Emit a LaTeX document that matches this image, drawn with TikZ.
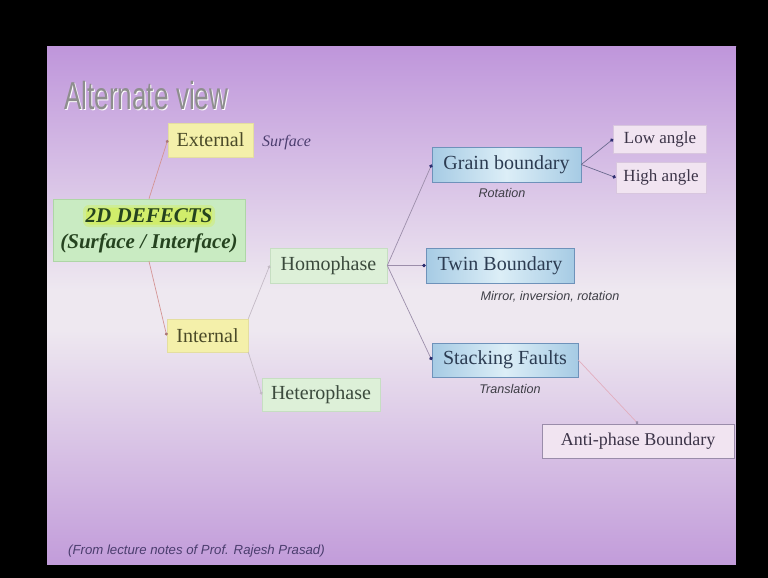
\documentclass[tikz,border=0pt]{standalone}
\usepackage{fontspec}
\setmainfont{Liberation Serif}
\setsansfont{Liberation Sans}
\usetikzlibrary{arrows.meta}

% slide background
\definecolor{bgTop}{HTML}{BF96DB}
\definecolor{bgMid}{HTML}{EEE8F0}
\definecolor{bgBot}{HTML}{C29CDA}
% box colours
\definecolor{yFill}{HTML}{F4F0AA}
\definecolor{yLine}{HTML}{E4DEA0}
\definecolor{yText}{HTML}{4A4A28}
\definecolor{gFill}{HTML}{C9EBC2}
\definecolor{gLine}{HTML}{AED6A6}
\definecolor{gText}{HTML}{25431F}
\definecolor{glow}{HTML}{D6EE48}
\definecolor{lgFill}{HTML}{DDF0D8}
\definecolor{lgLine}{HTML}{C6DEC2}
\definecolor{lgText}{HTML}{3B4A3C}
\definecolor{bEdge}{HTML}{A6CBE4}
\definecolor{bMid}{HTML}{DCEEF7}
\definecolor{bLine}{HTML}{6E92BA}
\definecolor{bText}{HTML}{2C3C52}
\definecolor{pFill}{HTML}{F1E4F1}
\definecolor{pLine}{HTML}{D8C6DE}
\definecolor{pText}{HTML}{3C3448}
\definecolor{apbLine}{HTML}{9A8CAA}
% connector colours
\definecolor{redLink}{HTML}{D49494}
\definecolor{grayLink}{HTML}{C4BAC6}
\definecolor{purpLink}{HTML}{9C8EAA}
\definecolor{darkLink}{HTML}{6A6A8E}
\definecolor{pinkLink}{HTML}{E2AEBE}
\definecolor{tipBlue}{HTML}{2C2C6E}
\definecolor{noteText}{HTML}{3E3E46}
\definecolor{footText}{HTML}{4B3D6E}
\definecolor{titleGray}{HTML}{8E8E8E}

\begin{document}
\begin{tikzpicture}[x=1pt,y=-1pt,
  box/.style={draw, line width=0.6pt, inner sep=0pt, font=\fontsize{20}{22}\selectfont},
  ybox/.style={box, fill=yFill, draw=yLine, text=yText},
  gbox/.style={box, fill=gFill, draw=gLine},
  lgbox/.style={box, fill=lgFill, draw=lgLine, text=lgText},
  bbox/.style={box, left color=bEdge, right color=bEdge, middle color=bMid, draw=bLine, text=bText},
  pbox/.style={box, fill=pFill, draw=pLine, text=pText, font=\fontsize{17}{19}\selectfont},
  note/.style={text=noteText, font=\sffamily\itshape\fontsize{12.6}{14}\selectfont, inner sep=0pt},
  link/.style={line width=0.7pt},
  dotTip/.style={-{Circle[length=3pt]}},
  rootText/.style={text=gText, inner sep=0pt, font=\bfseries\itshape\fontsize{21}{23}\selectfont},
]
\useasboundingbox (0,0) rectangle (768,578);
\fill[black] (0,0) rectangle (768,578);

% slide face: purple at top and bottom, pale in the middle
\shade[top color=bgTop, bottom color=bgMid] (47,47) rectangle (736,290);
\fill[bgMid] (47,289.5) rectangle (736,330.5);
\shade[top color=bgMid, bottom color=bgBot] (47,330) rectangle (736,564);

% title with a soft light edge
\node[anchor=base west, inner sep=0pt, text=white] (titleShadow) at (65,110)
  {\scalebox{0.67}[1]{\sffamily\fontsize{39}{40}\selectfont Alternate view}};
\node[anchor=base west, inner sep=0pt, text=titleGray] (title) at (64,109)
  {\scalebox{0.67}[1]{\sffamily\fontsize{39}{40}\selectfont Alternate view}};

% root box, with a yellow highlight behind its first line
\node[gbox, minimum width=192pt, minimum height=62pt] (defects) at (149,230) {};
\fill[glow, opacity=0.35, rounded corners=6pt] (83,205) rectangle (215,227);
\fill[glow, opacity=0.55, rounded corners=4pt] (86,207.5) rectangle (212,224.5);
\node[rootText] (defectsA) at (149,216) {2D DEFECTS};
\node[rootText] (defectsB) at (149,243) {(Surface / Interface)};

% first level
\node[ybox, minimum width=85pt, minimum height=34pt] (ext) at (210.5,140) {External};
\node[ybox, minimum width=81pt, minimum height=33pt] (int) at (207.5,335.5) {Internal};
\node[anchor=west, inner sep=0pt, text=footText, font=\itshape\fontsize{16}{18}\selectfont]
  (surf) at (262,143) {Surface};

% second level
\node[lgbox, minimum width=117pt, minimum height=35pt] (homo) at (328.5,265.5) {Homophase};
\node[lgbox, minimum width=118pt, minimum height=33pt] (hetero) at (321,394.5) {Heterophase};

% boundary types
\node[bbox, minimum width=149pt, minimum height=35pt] (grain) at (506.5,164.5) {Grain boundary};
\node[bbox, minimum width=148pt, minimum height=35pt] (twin) at (500,265.5) {Twin Boundary};
\node[bbox, minimum width=146pt, minimum height=34pt] (stack) at (505,360) {Stacking Faults};

\node[note] (rot) at (502,193) {Rotation};
\node[note] (mir) at (550,297) {Mirror, inversion, rotation};
\node[note] (trans) at (510,389) {Translation};

% leaves
\node[pbox, minimum width=93pt, minimum height=28pt] (low) at (660,139) {Low angle};
\node[pbox, minimum width=90pt, minimum height=31pt] (high) at (661,177.5) {High angle};
\node[box, fill=pFill, draw=apbLine, text=pText, font=\fontsize{18}{20}\selectfont,
  minimum width=192pt, minimum height=34pt] (apb) at (638,441) {Anti-phase Boundary};

% connectors
\draw[link, redLink, -{Circle[length=3pt, color=redLink!80!black]}] (defects.north) -- (ext.west);
\draw[link, redLink, -{Circle[length=3pt, color=redLink!80!black]}] (defects.south) -- (int.west);
\draw[link, grayLink, dotTip] (int.north east) -- (homo.west);
\draw[link, grayLink, dotTip] (int.south east) -- (hetero.west);
\draw[link, purpLink, -{Circle[length=3.5pt, color=tipBlue]}] (homo.east) -- (grain.west);
\draw[link, purpLink, -{Circle[length=3.5pt, color=tipBlue]}] (homo.east) -- (twin.west);
\draw[link, purpLink, -{Circle[length=3.5pt, color=tipBlue]}] (homo.east) -- (stack.west);
\draw[link, darkLink, -{Circle[length=3.5pt, color=tipBlue]}] (grain.east) -- (low.west);
\draw[link, darkLink, -{Circle[length=3.5pt, color=tipBlue]}] (grain.east) -- (high.west);
\draw[link, pinkLink, -{Circle[length=3pt, color=purpLink]}] (stack.east) -- (apb.north);

% credit line
\node[anchor=base west, inner sep=0pt, text=footText, font=\sffamily\itshape\fontsize{13.2}{15}\selectfont]
  (credit) at (68,554) {(From lecture notes of Prof. Rajesh Prasad)};

% right edge of the slide trims the last box
\fill[black] (736,47) rectangle (768,578);
\end{tikzpicture}
\end{document}
